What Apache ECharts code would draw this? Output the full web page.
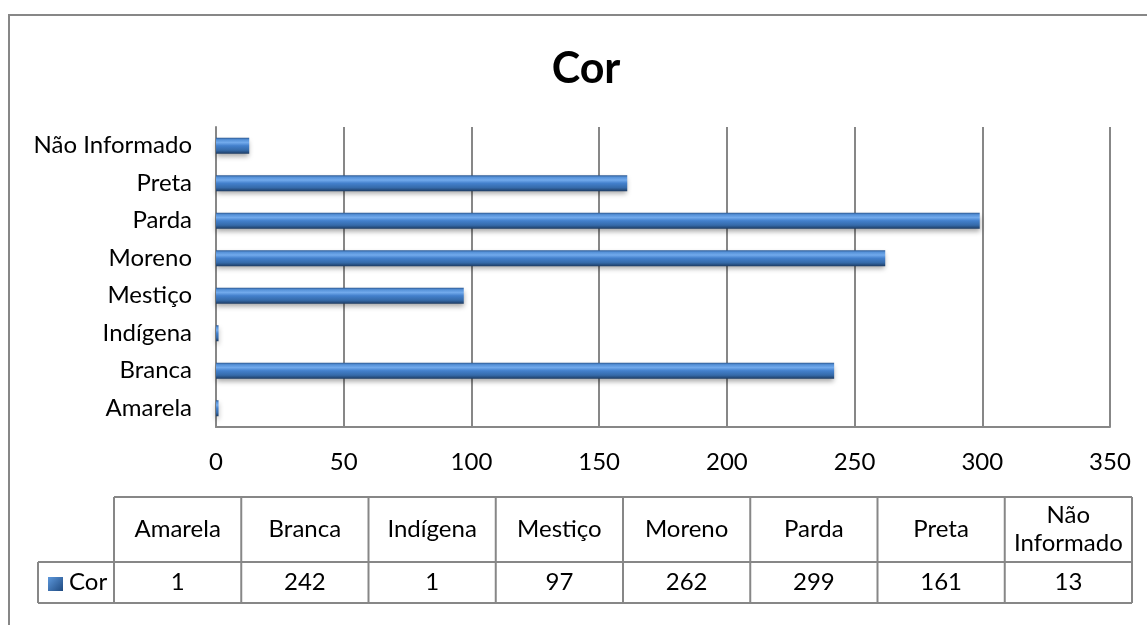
<!DOCTYPE html>
<html>
<head>
<meta charset="utf-8">
<script src="https://cdn.jsdelivr.net/npm/echarts@6/dist/echarts.min.js"></script>
<style>
  html, body { margin: 0; padding: 0; background: #fff; }
  #chart { width: 1147px; height: 625px; }
</style>
</head>
<body>
<div id="chart"></div>
<script>
// data
const categories = ['Amarela', 'Branca', 'Indígena', 'Mestiço', 'Moreno', 'Parda', 'Preta', 'Não Informado'];
const values = [1, 242, 1, 97, 262, 299, 161, 13];
const seriesName = 'Cor';
const xTicks = [0, 50, 100, 150, 200, 250, 300, 350];

const font = 'Lato, "Open Sans", sans-serif';
const gray = '#878787';
const fs = 24;

const barFill = new echarts.graphic.LinearGradient(0, 0, 0, 1, [
    { offset: 0, color: '#2b5790' },
    { offset: 0.12, color: '#5591d8' },
    { offset: 0.3, color: '#72aaec' },
    { offset: 0.5, color: '#4380cc' },
    { offset: 0.78, color: '#356aa9' },
    { offset: 1, color: '#1d3b62' }
]);

// data table under the chart, built from the same arrays
function buildTable() {
    const left = 114, right = 1132, legendLeft = 38;
    const top = 497, mid = 562, bottom = 603;
    const colW = (right - left) / categories.length;
    const els = [];
    const line = (x1, y1, x2, y2) => els.push({
        type: 'line',
        shape: { x1, y1, x2, y2 },
        style: { stroke: gray, lineWidth: 2 }
    });
    line(left, top, right, top);
    line(legendLeft, mid, right, mid);
    line(legendLeft, bottom, right, bottom);
    line(legendLeft, mid, legendLeft, bottom);
    for (let i = 0; i <= categories.length; i++) {
        line(left + i * colW, top, left + i * colW, bottom);
    }
    categories.forEach((c, i) => {
        const cx = left + (i + 0.5) * colW;
        els.push({
            type: 'text',
            x: cx, y: (top + mid) / 2,
            style: {
                text: c === 'Não Informado' ? 'Não\nInformado' : c,
                font: fs + 'px ' + font, fill: '#000',
                align: 'center', verticalAlign: 'middle', lineHeight: 28
            }
        });
        els.push({
            type: 'text',
            x: cx, y: (mid + bottom) / 2,
            style: {
                text: String(values[i]), font: fs + 'px ' + font, fill: '#000',
                align: 'center', verticalAlign: 'middle'
            }
        });
    });
    // legend key
    els.push({
        type: 'rect',
        shape: { x: 48, y: 577, width: 15, height: 14 },
        style: {
            fill: new echarts.graphic.LinearGradient(0, 0, 1, 1, [
                { offset: 0, color: '#5d98dc' },
                { offset: 1, color: '#1f4a80' }
            ])
        }
    });
    els.push({
        type: 'text',
        x: 69, y: (mid + bottom) / 2,
        style: { text: seriesName, font: fs + 'px ' + font, fill: '#000', verticalAlign: 'middle' }
    });
    return els;
}

const chart = echarts.init(document.getElementById('chart'));

chart.setOption({
    animation: false,
    backgroundColor: '#fff',
    grid: { left: 216, right: 37, top: 127, bottom: 198 },
    xAxis: {
        type: 'value',
        min: xTicks[0],
        max: xTicks[xTicks.length - 1],
        interval: 50,
        axisLine: { show: true, lineStyle: { color: gray, width: 2 } },
        axisTick: { show: false },
        axisLabel: { color: '#000', fontSize: fs, fontFamily: font, margin: 23 },
        splitLine: { show: true, lineStyle: { color: gray, width: 2 } }
    },
    yAxis: {
        type: 'category',
        data: categories,
        axisLine: { show: true, lineStyle: { color: gray, width: 2 } },
        axisTick: { show: false },
        axisLabel: { color: '#000', fontSize: fs, fontFamily: font, margin: 24 }
    },
    series: [{
        name: seriesName,
        type: 'bar',
        data: values,
        barWidth: 16,
        itemStyle: {
            color: barFill,
            shadowColor: 'rgba(0,0,0,0.35)',
            shadowBlur: 5,
            shadowOffsetY: 3
        }
    }],
    graphic: [
        {
            type: 'rect',
            shape: { x: 9, y: 15, width: 1300, height: 800 },
            style: { fill: null, stroke: gray, lineWidth: 2 },
            silent: true
        },
        {
            type: 'text',
            x: 586, y: 69,
            style: {
                text: 'Cor', font: 'bold 43px ' + font, fill: '#000',
                align: 'center', verticalAlign: 'middle'
            }
        },
        ...buildTable()
    ]
});
</script>
</body>
</html>
